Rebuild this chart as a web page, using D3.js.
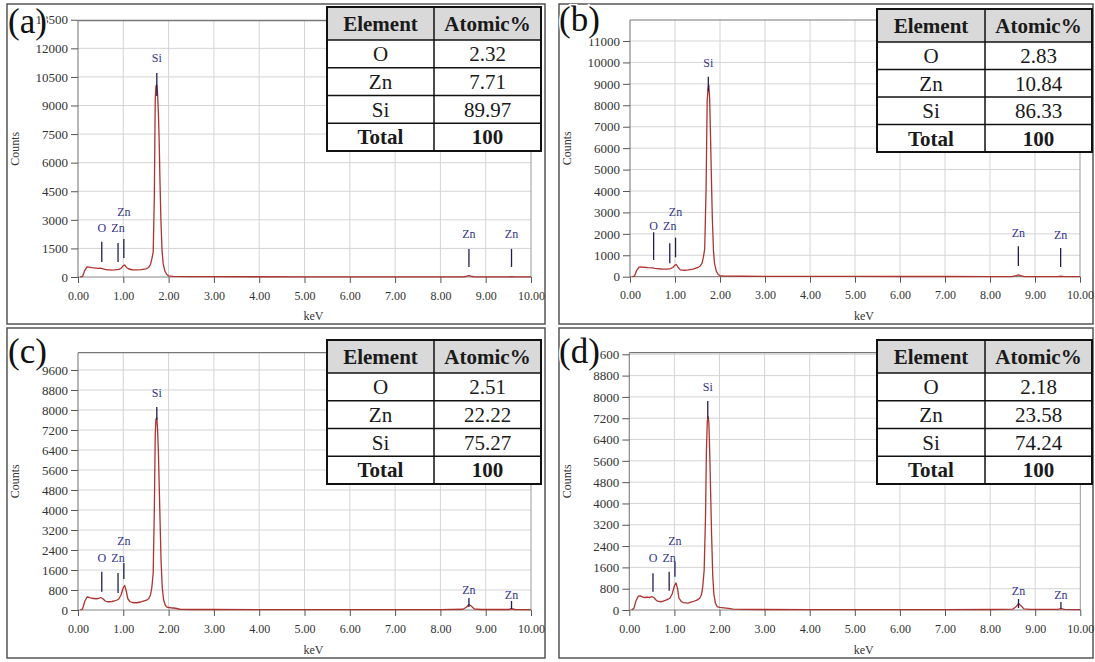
<!DOCTYPE html>
<html><head><meta charset="utf-8">
<script src="https://cdn.jsdelivr.net/npm/d3@7"></script>
<style>
body{margin:0;background:#fff}
svg{display:block}
svg text{font-family:"Liberation Serif","DejaVu Serif","Times New Roman",serif !important}
</style>
</head><body>
<svg id="chart" width="1095" height="662"></svg>
<script>
// ---------------- DATA ----------------
const xTicks = [0,1,2,3,4,5,6,7,8,9,10];
const yTicks_a = [0,1500,3000,4500,6000,7500,9000,10500,12000,13500];
const yTicks_b = [0,1000,2000,3000,4000,5000,6000,7000,8000,9000,10000,11000];
const yTicks_c = [0,800,1600,2400,3200,4000,4800,5600,6400,7200,8000,8800,9600];
const yTicks_d = [0,800,1600,2400,3200,4000,4800,5600,6400,7200,8000,8800,9600];
const yMax_a = 13450, yMax_b = 11980, yMax_c = 10290, yMax_d = 9660;

const keV_a = [0.05,0.10,0.15,0.20,0.25,0.30,0.35,0.40,0.45,0.50,0.55,0.60,0.65,0.70,0.75,0.80,0.85,0.90,0.95,1.00,1.03,1.07,1.12,1.20,1.30,1.40,1.50,1.56,1.60,1.63,1.66,1.685,1.705,1.72,1.737,1.755,1.775,1.795,1.81,1.83,1.855,1.88,1.92,1.96,2.00,2.10,2.50,3.00,4.00,5.00,6.00,7.00,8.00,8.50,8.58,8.63,8.68,8.75,9.50,9.57,9.65,10.00];
const counts_a = [0,30,350,530,520,490,480,470,450,460,430,400,380,370,360,370,390,400,450,600,630,500,420,380,370,390,430,500,650,950,1300,4200,9300,10000,10100,9700,8600,6800,5000,3000,1400,700,300,130,60,30,20,15,12,10,10,8,8,10,40,70,40,10,8,20,8,5];

const keV_b = [0.05,0.10,0.15,0.20,0.25,0.30,0.40,0.50,0.55,0.60,0.70,0.80,0.90,0.95,1.00,1.03,1.07,1.12,1.20,1.30,1.40,1.50,1.56,1.60,1.63,1.66,1.69,1.715,1.735,1.752,1.77,1.79,1.81,1.83,1.855,1.88,1.92,1.96,2.00,2.10,2.50,3.00,4.00,5.00,6.00,7.00,8.00,8.50,8.58,8.63,8.68,8.75,9.50,9.57,9.65,10.00];
const counts_b = [0,30,300,450,460,440,420,410,390,380,360,350,380,430,540,570,430,320,300,320,350,420,500,620,900,1300,4000,8200,8800,8950,8300,6500,4500,2700,1200,600,250,100,50,30,20,18,15,12,10,10,8,10,50,80,50,10,8,20,8,5];

const keV_c = [0.05,0.10,0.15,0.20,0.25,0.30,0.35,0.40,0.45,0.50,0.55,0.60,0.65,0.70,0.75,0.80,0.85,0.90,0.95,1.00,1.03,1.06,1.10,1.15,1.20,1.30,1.40,1.50,1.56,1.60,1.63,1.66,1.685,1.705,1.72,1.737,1.755,1.775,1.795,1.815,1.835,1.86,1.89,1.93,1.97,2.05,2.15,2.25,2.50,3.00,4.00,5.00,6.00,7.00,8.00,8.50,8.58,8.63,8.68,8.75,8.90,9.50,9.57,9.65,10.00];
const counts_c = [0,40,350,520,500,470,460,450,460,500,450,360,330,330,340,360,390,440,600,900,980,800,450,330,300,290,330,380,450,600,900,1500,4000,7000,7600,7700,7300,6300,4800,3300,1900,900,400,180,110,90,70,30,20,20,18,16,15,15,18,30,120,220,160,40,20,20,50,20,15];

const keV_d = [0.05,0.10,0.15,0.20,0.25,0.30,0.35,0.40,0.45,0.50,0.55,0.60,0.65,0.70,0.75,0.80,0.85,0.90,0.95,1.00,1.035,1.07,1.10,1.15,1.20,1.30,1.40,1.50,1.56,1.60,1.63,1.66,1.69,1.71,1.73,1.75,1.765,1.785,1.805,1.825,1.85,1.875,1.91,1.95,2.00,2.10,2.20,2.30,2.50,3.00,4.00,5.00,6.00,7.00,8.00,8.50,8.58,8.63,8.68,8.75,8.90,9.50,9.57,9.65,10.00];
const counts_d = [0,60,350,520,530,480,470,480,470,500,460,360,320,310,330,360,400,440,600,900,1020,800,450,320,280,260,310,370,440,570,900,1500,3500,6000,7100,7250,7000,5800,4300,2800,1300,600,250,130,100,80,60,30,20,18,16,15,15,15,18,30,130,240,170,40,20,20,50,20,15];

// element markers (line top / bottom and label height in counts)
const markerEl = ["O","Zn","Zn","Si","Zn","Zn"];
const markerKeV = [0.525,0.884,1.012,1.740,8.630,9.570];
const markerTop_a = [1845,1790,2000,10700,1475,1475];
const markerBottom_a = [790,790,1000,9500,527,527];
const markerLabel_a = [2582,2582,3425,11490,2266,2266];
const markerTop_b = [2073,1560,1821,9326,1420,1340];
const markerBottom_b = [780,626,906,8640,500,450];
const markerLabel_b = [2368,2368,3035,10000,2040,1950];
const markerTop_c = [1532,1480,1880,8120,480,360];
const markerBottom_c = [732,680,1240,7600,120,40];
const markerLabel_c = [2092,2092,2772,8680,800,600];
const markerTop_d = [1376,1436,1811,7849,412,300];
const markerBottom_d = [688,724,1249,7189,75,37];
const markerLabel_d = [1961,1961,2599,8374,712,562];

// composition tables
const tableHeader = ["Element","Atomic%"];
const tableElements = ["O","Zn","Si","Total"];
const atomic_a = ["2.32","7.71","89.97","100"];
const atomic_b = ["2.83","10.84","86.33","100"];
const atomic_c = ["2.51","22.22","75.27","100"];
const atomic_d = ["2.18","23.58","74.24","100"];
const panelTags = ["(a)","(b)","(c)","(d)"];

// ---------------- LAYOUT ----------------
const SERIF = "'Liberation Serif','DejaVu Serif','Times New Roman',serif";
const layout = [
  {box:[7,4,545,324],   x0:78,    x1:531,    yTop:20.7,  yZero:277,   tbl:[327,7,541,151],   split:434, tagX:8,   tagY:33},
  {box:[559,4,1093,324],x0:630,   x1:1080,   yTop:20,    yZero:276.7, tbl:[877,9,1092,152],  split:985, tagX:559, tagY:31},
  {box:[7,328,545,658], x0:78,    x1:531,    yTop:352.7, yZero:610,   tbl:[327,340,541,484], split:434, tagX:8,   tagY:363},
  {box:[559,328,1093,658],x0:629.3,x1:1080.3,yTop:352.7, yZero:610,   tbl:[877,340,1092,484],split:985, tagX:559, tagY:363}
];

const panelData = [
  {keV:keV_a, counts:counts_a, yTicks:yTicks_a, yMax:yMax_a, mTop:markerTop_a, mBot:markerBottom_a, mLab:markerLabel_a, atomic:atomic_a},
  {keV:keV_b, counts:counts_b, yTicks:yTicks_b, yMax:yMax_b, mTop:markerTop_b, mBot:markerBottom_b, mLab:markerLabel_b, atomic:atomic_b},
  {keV:keV_c, counts:counts_c, yTicks:yTicks_c, yMax:yMax_c, mTop:markerTop_c, mBot:markerBottom_c, mLab:markerLabel_c, atomic:atomic_c},
  {keV:keV_d, counts:counts_d, yTicks:yTicks_d, yMax:yMax_d, mTop:markerTop_d, mBot:markerBottom_d, mLab:markerLabel_d, atomic:atomic_d}
];

const svg = d3.select("#chart").attr("font-family", SERIF);
svg.append("rect").attr("width",1095).attr("height",662).attr("fill","#fff");

panelData.forEach((pd, i) => {
  const L = layout[i];
  const g = svg.append("g").attr("font-family", SERIF);
  const x = d3.scaleLinear().domain([0,10]).range([L.x0, L.x1]);
  const y = d3.scaleLinear().domain([0,pd.yMax]).range([L.yZero, L.yTop]);

  g.append("rect").attr("x",L.box[0]).attr("y",L.box[1])
    .attr("width",L.box[2]-L.box[0]).attr("height",L.box[3]-L.box[1])
    .attr("fill","none").attr("stroke","#555").attr("stroke-width",1.5);

  g.selectAll(".hg").data(pd.yTicks.filter(v=>v>0)).join("line")
    .attr("x1",L.x0).attr("x2",L.x1).attr("y1",d=>y(d)).attr("y2",d=>y(d))
    .attr("stroke","#d4d4d4").attr("stroke-width",1);
  g.selectAll(".vg").data(xTicks.filter(v=>v>0 && v<10)).join("line")
    .attr("x1",d=>x(d)).attr("x2",d=>x(d)).attr("y1",L.yTop).attr("y2",L.yZero)
    .attr("stroke","#d4d4d4").attr("stroke-width",1);

  g.append("line").attr("x1",L.x0).attr("x2",L.x1).attr("y1",L.yTop).attr("y2",L.yTop)
    .attr("stroke","#777").attr("stroke-width",1.2);
  g.append("line").attr("x1",L.x1).attr("x2",L.x1).attr("y1",L.yTop).attr("y2",L.yZero)
    .attr("stroke","#999").attr("stroke-width",1);
  g.append("line").attr("x1",L.x0).attr("x2",L.x0).attr("y1",L.yTop).attr("y2",L.yZero)
    .attr("stroke","#888").attr("stroke-width",1.2);
  g.append("line").attr("x1",L.x0).attr("x2",L.x1).attr("y1",L.yZero).attr("y2",L.yZero)
    .attr("stroke","#888").attr("stroke-width",1.2);

  const ya = g.append("g").attr("transform",`translate(${L.x0},0)`)
    .call(d3.axisLeft(y).tickValues(pd.yTicks).tickSize(7).tickPadding(3).tickFormat(d3.format("d")));
  const xa = g.append("g").attr("transform",`translate(0,${L.yZero})`)
    .call(d3.axisBottom(x).tickValues(xTicks).tickSize(6).tickPadding(8).tickFormat(d3.format(".2f")));
  [ya,xa].forEach(a=>{
    a.attr("font-family", SERIF);
    a.select(".domain").remove();
    a.selectAll(".tick line").attr("stroke","#555");
    a.selectAll(".tick text").attr("fill","#333");
  });
  ya.attr("font-size",13);
  xa.attr("font-size",12);

  g.append("text").attr("transform",`translate(${L.box[0]+8},${(L.yTop+L.yZero)/2}) rotate(-90)`)
    .attr("text-anchor","middle").attr("dy","0.35em").attr("font-size",12).attr("fill","#333").text("Counts");
  g.append("text").attr("x",(L.x0+L.x1)/2+9).attr("y",L.box[3]-4)
    .attr("text-anchor","middle").attr("font-size",12).attr("fill","#333").text("keV");

  const pts = pd.keV.map((k,j)=>[k, pd.counts[j]]);
  g.append("path").datum(pts)
    .attr("d", d3.line().x(d=>x(d[0])).y(d=>y(d[1])))
    .attr("fill","none").attr("stroke","#ad3430").attr("stroke-width",1.3).attr("stroke-linejoin","round");

  markerKeV.forEach((k,j)=>{
    g.append("line").attr("x1",x(k)).attr("x2",x(k))
      .attr("y1",y(pd.mTop[j])).attr("y2",y(pd.mBot[j]))
      .attr("stroke","#1e1e55").attr("stroke-width",1.3);
    g.append("text").attr("x",x(k)).attr("y",y(pd.mLab[j])).attr("dy","0.35em")
      .attr("text-anchor","middle").attr("font-size",12).attr("fill","#34348a").text(markerEl[j]);
  });

  g.append("text").attr("x",L.tagX).attr("y",L.tagY).attr("font-size",35)
    .attr("fill","#111").attr("stroke","#fff").attr("stroke-width",3)
    .attr("paint-order","stroke").text(panelTags[i]);

  const [tx0,ty0,tx1,ty1] = L.tbl;
  const headerH = 33;
  const rowH = (ty1 - ty0 - headerH) / tableElements.length;
  const tg = g.append("g");
  tg.append("rect").attr("x",tx0).attr("y",ty0).attr("width",tx1-tx0).attr("height",ty1-ty0).attr("fill","#fff");
  tg.append("rect").attr("x",tx0).attr("y",ty0).attr("width",tx1-tx0).attr("height",headerH).attr("fill","#d9d9d9");
  const colC = [(tx0+L.split)/2, (L.split+tx1)/2];
  tableHeader.forEach((h,c)=>{
    tg.append("text").attr("x",colC[c]).attr("y",ty0+headerH/2).attr("dy","0.35em")
      .attr("text-anchor","middle").attr("font-size",21).attr("font-weight","bold").attr("fill","#1a1a1a").text(h);
  });
  tableElements.forEach((el,r)=>{
    const cy = ty0+headerH+rowH*r+rowH/2;
    const bold = el==="Total";
    tg.append("text").attr("x",colC[0]).attr("y",cy).attr("dy","0.35em")
      .attr("text-anchor","middle").attr("font-size",21).attr("font-weight",bold?"bold":"normal").attr("fill","#1a1a1a").text(el);
    tg.append("text").attr("x",colC[1]).attr("y",cy).attr("dy","0.35em")
      .attr("text-anchor","middle").attr("font-size",21).attr("font-weight",bold?"bold":"normal").attr("fill","#1a1a1a").text(pd.atomic[r]);
    tg.append("line").attr("x1",tx0).attr("x2",tx1).attr("y1",ty0+headerH+rowH*r).attr("y2",ty0+headerH+rowH*r)
      .attr("stroke","#111").attr("stroke-width",1.5);
  });
  tg.append("line").attr("x1",L.split).attr("x2",L.split).attr("y1",ty0).attr("y2",ty1)
    .attr("stroke","#111").attr("stroke-width",1.5);
  tg.append("rect").attr("x",tx0).attr("y",ty0).attr("width",tx1-tx0).attr("height",ty1-ty0)
    .attr("fill","none").attr("stroke","#111").attr("stroke-width",2);
});
</script>
</body></html>
